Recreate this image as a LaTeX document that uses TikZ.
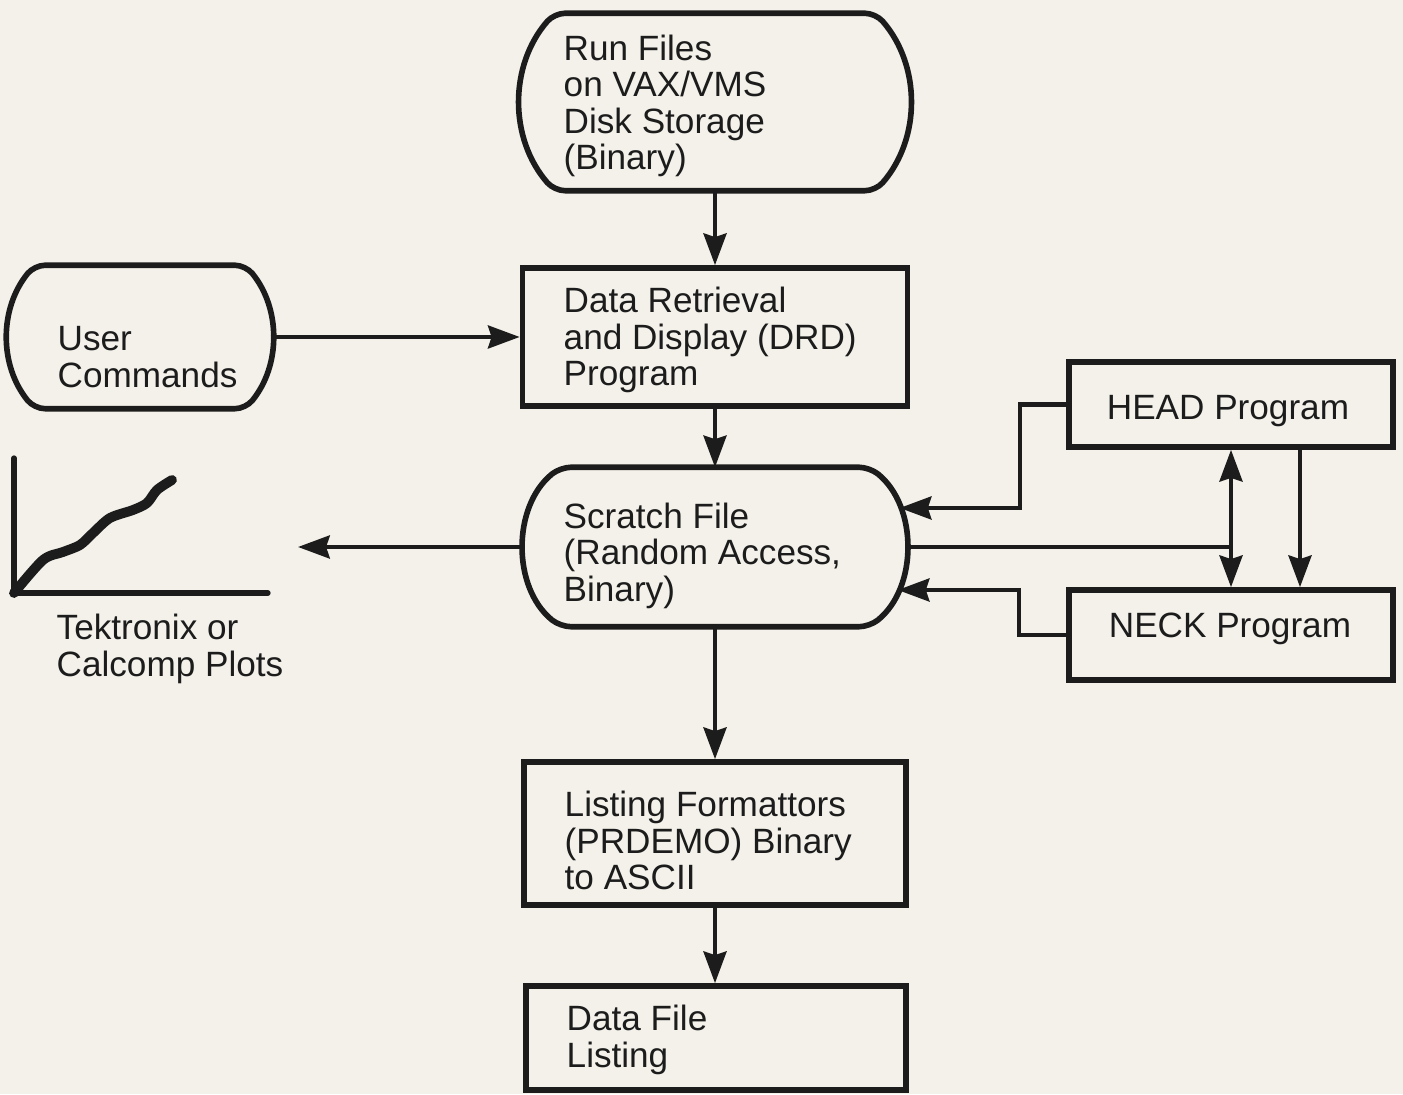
\documentclass[tikz,border=0pt]{standalone}
\usepackage{fontspec}
\setmainfont{Liberation Sans}
\usepackage{tikz}
\usetikzlibrary{arrows.meta,calc}
\usepackage{xcolor}
\definecolor{paper}{RGB}{243,241,233}
\definecolor{ink}{RGB}{28,28,28}

\begin{document}
\begin{tikzpicture}[
    font=\fontsize{10}{10.4}\selectfont,
    >={Stealth[length=9pt,width=6.5pt,inset=1pt]},
    box/.style={draw=ink,line width=1.6pt,inner sep=0pt},
    term/.style={inner sep=0pt},
    outline/.style={draw=ink,line width=1.6pt,line join=round,rounded corners=3pt},
    lbl/.style={text=ink,align=left,anchor=west,inner sep=0pt},
    flow/.style={draw=ink,line width=1.3pt,->},
  ]
    \fill[paper] (0,0) rectangle (14.03,10.94);
    \useasboundingbox (0,0) rectangle (14.03,10.94);
    % main column
    \node[term,minimum width=3.86cm,minimum height=1.76cm] (run) at (7.15,9.92) {};
    \node[box,minimum width=3.85cm,minimum height=1.38cm] (drd) at (7.15,7.57) {};
    \node[term,minimum width=3.84cm,minimum height=1.58cm] (scratch) at (7.15,5.47) {};
    \node[box,minimum width=3.82cm,minimum height=1.43cm] (listing) at (7.15,2.605) {};
    \node[box,minimum width=3.80cm,minimum height=1.04cm] (datafile) at (7.16,0.56) {};
    % left side
    \node[term,minimum width=2.60cm,minimum height=1.42cm] (user) at (1.40,7.57) {};
    % right side
    \node[box,minimum width=3.24cm,minimum height=0.85cm] (head) at (12.31,6.895) {};
    \node[box,minimum width=3.24cm,minimum height=0.90cm] (neck) at (12.31,4.59) {};

    % terminal outlines
    \foreach \n/\s/\b in {run/0.33/41, scratch/0.38/51, user/0.25/39}
      \draw[outline] (\n.north) -- ($(\n.north east)+(-\s,0)$)
        to[bend left=\b] ($(\n.south east)+(-\s,0)$) -- ($(\n.south west)+(\s,0)$)
        to[bend left=\b] ($(\n.north west)+(\s,0)$) -- cycle;

    % texts
    \node[lbl] (runtxt) at (5.63,9.88) {Run Files\\on VAX/VMS\\Disk Storage\\(Binary)};
    \node[lbl] (drdtxt) at (5.63,7.54) {Data Retrieval\\and Display (DRD)\\Program};
    \node[lbl] (scratchtxt) at (5.63,5.385) {Scratch File\\(Random Access,\\Binary)};
    \node[lbl] (listingtxt) at (5.64,2.535) {Listing Formattors\\(PRDEMO) Binary\\to ASCII};
    \node[lbl] (datafiletxt) at (5.66,0.54) {Data File\\Listing};
    \node[lbl] (usertxt) at (0.57,7.37) {User\\Commands};
    \node[lbl,anchor=center] (headtxt) at (12.28,6.825) {HEAD Program};
    \node[lbl,anchor=center] (necktxt) at (12.30,4.65) {NECK Program};

    % plot
    \draw[ink,line width=1.5pt,line cap=round] (0.14,6.36) -- (0.14,5.01) -- (2.68,5.01);
    \draw[ink,line width=2.8pt,line cap=round] plot[smooth] coordinates
      {(0.14,5.01) (0.43,5.34) (0.63,5.42) (0.80,5.49) (0.93,5.61) (1.10,5.76)
       (1.33,5.84) (1.47,5.91) (1.57,6.04) (1.72,6.14)};
    \node[lbl] (plotlbl) at (0.56,4.45) {Tektronix or\\Calcomp Plots};
    \coordinate (plotend) at (2.98,5.47);

    % connectors
    \draw[flow] (run) -- (drd);
    \draw[flow] (user) -- (drd);
    \draw[flow] (drd) -- (scratch);
    \draw[flow] (scratch) -- (listing);
    \draw[flow] (listing) -- (listing |- datafile.north);
    \draw[flow] (scratch) -- (plotend);
    \draw[flow] (head.west) -- ++(-0.46,0) |- ($(scratch.east)+(-0.08,0.39)$);
    \draw[flow] (neck.west) -- ++(-0.47,0) |- ($(scratch.east)+(-0.10,-0.43)$);
    \draw[ink,line width=1.3pt] (scratch.east) -- (scratch.east -| head.south);
    \draw[flow,<->] (head.south) -- (neck.north);
    \draw[flow] ([xshift=0.69cm]head.south) -- ([xshift=0.69cm]head.south |- neck.north);
\end{tikzpicture}
\end{document}
